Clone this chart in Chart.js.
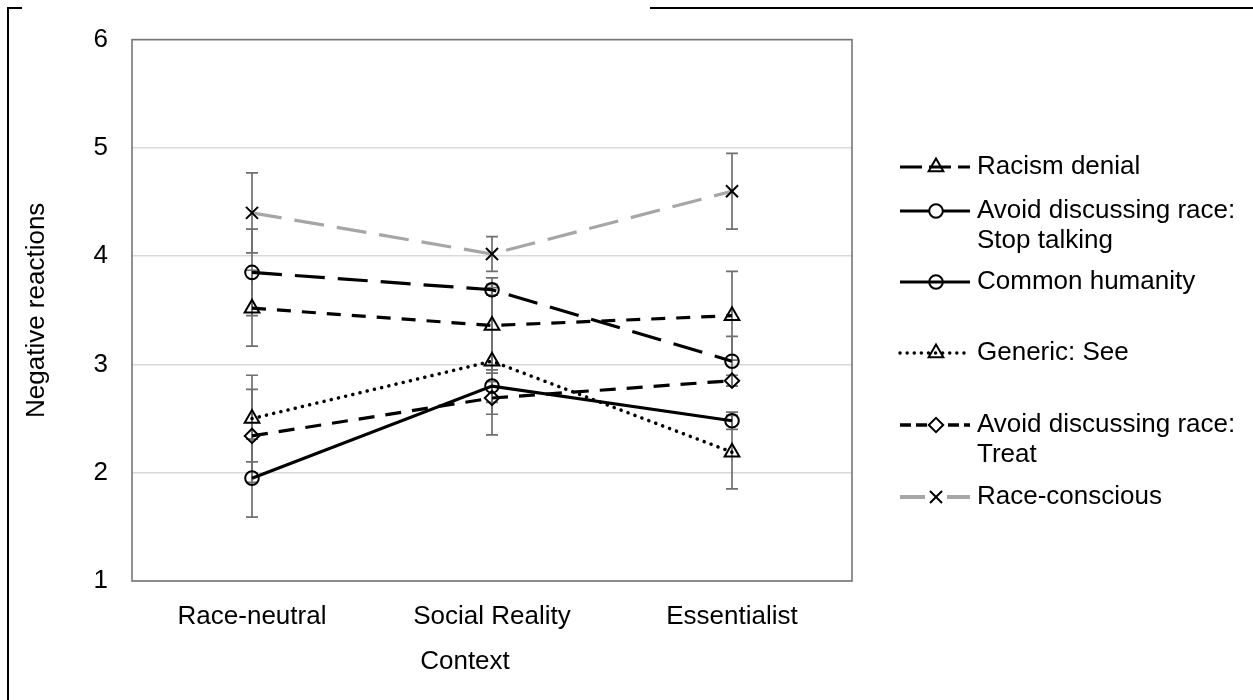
<!DOCTYPE html>
<html>
<head>
<meta charset="utf-8">
<script src="https://cdn.jsdelivr.net/npm/chart.js@4.4.1/dist/chart.umd.min.js"></script>
<style>
  html, body { margin: 0; padding: 0; background: #ffffff; }
  #wrap { position: relative; width: 1253px; height: 700px; }
  canvas { display: block; }
</style>
</head>
<body>
<div id="wrap"><canvas id="chart" width="1253" height="700"></canvas></div>
<script>
// Categories and tick values
const categories = ['Race-neutral', 'Social Reality', 'Essentialist'];
const yMin = 1;
const yMax = 6;

// Means per context and half-widths of the error bars
const racismDenial = [3.52, 3.36, 3.45];
const racismDenialErr = [0.35, 0.44, 0.41];
const stopTalking = [3.85, 3.69, 3.03];
const stopTalkingErr = [0.40, 0.05, 0.23];
const commonHumanity = [1.95, 2.80, 2.48];
const commonHumanityErr = [0.36, 0.15, 0.08];
const genericSee = [2.50, 3.03, 2.19];
const genericSeeErr = [0.40, 0.68, 0.34];
const treat = [2.34, 2.69, 2.85];
const treatErr = [0.43, 0.15, 0.05];
const raceConscious = [4.40, 4.02, 4.60];
const raceConsciousErr = [0.37, 0.16, 0.35];

// Legend text, one array of lines per entry
const legendText = [
  ['Racism denial'],
  ['Avoid discussing race:', 'Stop talking'],
  ['Common humanity'],
  ['Generic: See'],
  ['Avoid discussing race:', 'Treat'],
  ['Race-conscious']
];

const FONT = '"Liberation Sans", Arial, sans-serif';
const FS = 26;

function series(label, data, err, style) {
  return Object.assign({
    label: label,
    data: data,
    errors: err,
    borderColor: '#000000',
    borderWidth: 3.2,
    borderDash: [],
    fill: false,
    tension: 0,
    pointRadius: 6.8,
    pointHoverRadius: 6.8,
    pointBorderColor: '#000000',
    pointBorderWidth: 2,
    pointBackgroundColor: 'rgba(255,255,255,0)'
  }, style);
}

const datasets = [
  series('Racism denial', racismDenial, racismDenialErr, { borderDash: [14, 11], pointStyle: 'triangle', pointRadius: 8.5 }),
  series('Avoid discussing race: Stop talking', stopTalking, stopTalkingErr, { borderDash: [30, 13], pointStyle: 'circle' }),
  series('Common humanity', commonHumanity, commonHumanityErr, { pointStyle: 'circle' }),
  series('Generic: See', genericSee, genericSeeErr, { borderDash: [0.1, 7.3], borderCapStyle: 'round', borderWidth: 3.5, pointStyle: 'triangle', pointRadius: 8.5 }),
  series('Avoid discussing race: Treat', treat, treatErr, { borderDash: [16, 11], pointStyle: 'rectRot', pointRadius: 7.2 }),
  series('Race-conscious', raceConscious, raceConsciousErr, { borderColor: '#a6a6a6', borderDash: [30, 13], pointStyle: 'crossRot', pointRadius: 8.5 })
];

// Outer frame lines of the figure box
const framePlugin = {
  id: 'outerFrame',
  beforeDraw(chart) {
    const ctx = chart.ctx;
    ctx.save();
    ctx.fillStyle = '#ffffff';
    ctx.fillRect(0, 0, chart.width, chart.height);
    ctx.strokeStyle = '#000000';
    ctx.lineWidth = 2;
    ctx.beginPath();
    ctx.moveTo(8, 700); ctx.lineTo(8, 8); ctx.lineTo(22, 8);
    ctx.moveTo(650, 8); ctx.lineTo(1253, 8);
    ctx.stroke();
    ctx.restore();
  }
};

// Plot-area border and error bars, drawn under the series
const errorBarPlugin = {
  id: 'errorBars',
  beforeDatasetsDraw(chart) {
    const ctx = chart.ctx;
    const a = chart.chartArea;
    const xs = chart.scales.x, ys = chart.scales.y;
    ctx.save();
    ctx.strokeStyle = '#767676';
    ctx.lineWidth = 1.6;
    ctx.strokeRect(a.left, a.top, a.right - a.left, a.bottom - a.top);

    ctx.strokeStyle = '#6f6f6f';
    ctx.lineWidth = 1.7;
    chart.data.datasets.forEach(ds => {
      ds.data.forEach((v, i) => {
        const e = ds.errors[i];
        const x = xs.getPixelForValue(i);
        const yTop = ys.getPixelForValue(v + e);
        const yBot = ys.getPixelForValue(v - e);
        ctx.beginPath();
        ctx.moveTo(x, yTop); ctx.lineTo(x, yBot);
        ctx.moveTo(x - 6, yTop); ctx.lineTo(x + 6, yTop);
        ctx.moveTo(x - 6, yBot); ctx.lineTo(x + 6, yBot);
        ctx.stroke();
      });
    });
    ctx.restore();
  }
};

// Legend entries: line sample with marker, then text
const legendItems = [
  { y: 167, color: '#000', dash: [22, 7], width: 3.2, marker: 'triangle', fillMarker: false },
  { y: 211, color: '#000', dash: [], width: 3.2, marker: 'circle', fillMarker: true },
  { y: 282, color: '#000', dash: [], width: 3.2, marker: 'circle', fillMarker: false },
  { y: 353, color: '#000', dash: [0.1, 7], width: 3.4, cap: 'round', marker: 'triangle', fillMarker: false },
  { y: 425, color: '#000', dash: [11, 5], width: 3.6, marker: 'rectRot', fillMarker: true },
  { y: 497, color: '#a6a6a6', dash: [], width: 4, marker: 'crossRot', fillMarker: true, gap: 11 }
];

const legendPlugin = {
  id: 'sideLegend',
  afterDraw(chart) {
    const ctx = chart.ctx;
    const x0 = 900, x1 = 970, xm = 936, xt = 977;
    ctx.save();
    legendItems.forEach((it, k) => {
      ctx.strokeStyle = it.color;
      ctx.lineWidth = it.width;
      ctx.lineCap = it.cap || 'butt';
      ctx.setLineDash(it.dash);
      ctx.beginPath();
      if (it.gap) {
        ctx.moveTo(x0, it.y); ctx.lineTo(xm - it.gap, it.y);
        ctx.moveTo(xm + it.gap, it.y); ctx.lineTo(x1, it.y);
      } else {
        ctx.moveTo(x0, it.y); ctx.lineTo(x1, it.y);
      }
      ctx.stroke();
      ctx.setLineDash([]);
      ctx.lineCap = 'butt';
      const ds = datasets[k];
      const r = ds.pointRadius;
      if (it.fillMarker) {
        ctx.fillStyle = '#ffffff';
        Chart.helpers.drawPoint(ctx, { pointStyle: it.marker, radius: r, borderWidth: 0 }, xm, it.y);
        ctx.fill();
      }
      ctx.strokeStyle = '#000000';
      ctx.lineWidth = 2;
      ctx.fillStyle = 'rgba(0,0,0,0)';
      Chart.helpers.drawPoint(ctx, { pointStyle: it.marker, radius: r, borderWidth: 2 }, xm, it.y);

      ctx.fillStyle = '#000000';
      ctx.font = FS + 'px ' + FONT;
      ctx.textBaseline = 'middle';
      ctx.textAlign = 'left';
      legendText[k].forEach((line, j) => ctx.fillText(line, xt, it.y + j * 30));
    });

    // horizontal axis title
    ctx.fillStyle = '#000000';
    ctx.font = FS + 'px ' + FONT;
    ctx.textAlign = 'center';
    ctx.textBaseline = 'middle';
    ctx.fillText('Context', 465, 662);
    ctx.restore();
  }
};

new Chart(document.getElementById('chart'), {
  type: 'line',
  data: { labels: categories, datasets: datasets },
  options: {
    responsive: false,
    animation: false,
    devicePixelRatio: 1,
    layout: { padding: { left: 0, top: 39, right: 401, bottom: 0 } },
    plugins: {
      legend: { display: false },
      tooltip: { enabled: false }
    },
    scales: {
      x: {
        type: 'category',
        offset: true,
        grid: { display: false, drawTicks: false },
        border: { display: false },
        ticks: { color: '#000000', font: { family: FONT, size: FS }, padding: 20, maxRotation: 0 },
        afterFit(s) { s.height = 119; }
      },
      y: {
        min: yMin,
        max: yMax,
        grid: { color: '#d9d9d9', lineWidth: 1.4, drawTicks: false },
        border: { display: false },
        ticks: { stepSize: 1, color: '#000000', font: { family: FONT, size: FS }, padding: 24 },
        title: { display: true, text: 'Negative reactions', color: '#000000', font: { family: FONT, size: FS }, padding: { top: 21, bottom: 0 } },
        afterFit(s) { s.width = 132; }
      }
    }
  },
  plugins: [framePlugin, errorBarPlugin, legendPlugin]
});
</script>
</body>
</html>
